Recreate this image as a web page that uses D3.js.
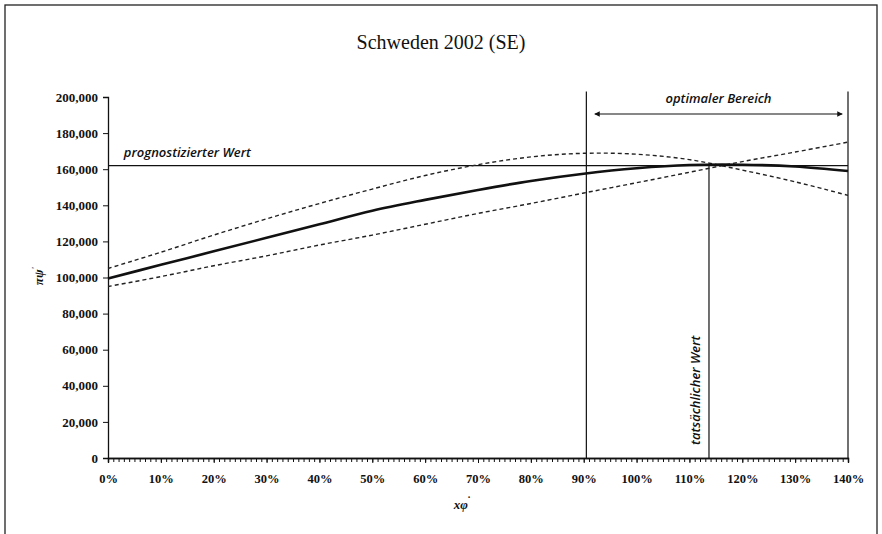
<!DOCTYPE html>
<html>
<head>
<meta charset="utf-8">
<script src="https://cdn.jsdelivr.net/npm/d3@7"></script>
<style>
  body { margin: 0; background: #fff; }
  svg { display: block; }
</style>
</head>
<body>
<script>
const shares = [0, 0.1, 0.2, 0.3, 0.4, 0.5, 0.6, 0.7, 0.8, 0.9, 1.0, 1.1, 1.2, 1.3, 1.4];
const mainCurve = [99500, 107000, 114500, 122000, 129500, 137000, 143000, 148500, 153500, 157500, 160500, 162300, 162500, 161500, 159000];
const upperCurve = [105000, 114000, 123500, 132500, 141000, 149000, 156500, 162500, 166800, 168800, 168300, 165300, 159500, 153000, 145500];
const lowerCurve = [95000, 100500, 106500, 112000, 118000, 123500, 129500, 135500, 141000, 146800, 152500, 158300, 164200, 169500, 175000];
const yTicks = [0, 20000, 40000, 60000, 80000, 100000, 120000, 140000, 160000, 180000, 200000];
const xTicks = d3.range(0, 15).map((i) => i / 10);

const forecastValue = 162000;
const actualShare = 1.137;
const actualValue = 162500;
const rangeStart = 0.905;
const rangeEnd = 1.4;

const width = 882, height = 534;
const margin = { top: 97, right: 34, bottom: 76, left: 108 };
const w = width - margin.left - margin.right,
  h = height - margin.top - margin.bottom;

const svg = d3.select("body").append("svg")
  .attr("width", width)
  .attr("height", height);

// outer frame
svg.append("rect")
  .attr("x", 5).attr("y", 5)
  .attr("width", 872).attr("height", 560)
  .attr("fill", "none").attr("stroke", "#222").attr("stroke-width", 1.3);

svg.append("text")
  .attr("x", 441).attr("y", 49)
  .attr("text-anchor", "middle")
  .attr("font-family", "Liberation Serif, serif")
  .attr("font-size", 20)
  .attr("fill", "#111")
  .text("Schweden 2002 (SE)");

const g = svg.append("g")
  .attr("transform", `translate(${margin.left},${margin.top})`);

const x = d3.scaleLinear().domain([0, 1.4]).range([0, w]);
const y = d3.scaleLinear().domain([0, 200000]).range([h, 0]);

// axes
const yAxis = d3.axisLeft(y).tickValues(yTicks).tickSize(5).tickPadding(5)
  .tickFormat(d3.format(","));
g.append("g").attr("class", "y-axis").call(yAxis);

const xMinor = d3.axisBottom(x).tickValues(d3.range(0, 141).map((i) => i / 100))
  .tickSize(4).tickFormat("");
g.append("g").attr("transform", `translate(0,${h})`).call(xMinor);

const xAxis = d3.axisBottom(x).tickValues(xTicks).tickSize(5).tickPadding(11)
  .tickFormat(d3.format(".0%"));
g.append("g").attr("class", "x-axis").attr("transform", `translate(0,${h})`).call(xAxis);

g.selectAll(".domain").attr("stroke", "#111").attr("stroke-width", 1.3);
g.selectAll(".tick line").attr("stroke", "#111");
g.selectAll(".tick text")
  .attr("font-family", "Liberation Serif, serif")
  .attr("font-weight", "bold")
  .attr("fill", "#111");
g.select(".y-axis").selectAll(".tick text").attr("font-size", 13);
g.select(".x-axis").selectAll(".tick text").attr("font-size", 12.5);

// reference lines
g.append("line")
  .attr("x1", x(0)).attr("x2", x(1.4))
  .attr("y1", y(forecastValue)).attr("y2", y(forecastValue))
  .attr("stroke", "#111").attr("stroke-width", 1.2);

[rangeStart, rangeEnd].forEach((s) => {
  g.append("line")
    .attr("x1", x(s)).attr("x2", x(s))
    .attr("y1", y(0)).attr("y2", y(203000))
    .attr("stroke", "#111").attr("stroke-width", 1.2);
});

g.append("line")
  .attr("x1", x(actualShare)).attr("x2", x(actualShare))
  .attr("y1", y(0)).attr("y2", y(actualValue))
  .attr("stroke", "#111").attr("stroke-width", 1.2);

// curves
const line = d3.line()
  .x((d, i) => x(shares[i]))
  .y((d) => y(d))
  .curve(d3.curveCatmullRom);

g.append("path").datum(upperCurve)
  .attr("fill", "none").attr("stroke", "#222")
  .attr("stroke-width", 1.4).attr("stroke-dasharray", "4,3")
  .attr("d", line);
g.append("path").datum(lowerCurve)
  .attr("fill", "none").attr("stroke", "#222")
  .attr("stroke-width", 1.4).attr("stroke-dasharray", "4,3")
  .attr("d", line);
g.append("path").datum(mainCurve)
  .attr("fill", "none").attr("stroke", "#111")
  .attr("stroke-width", 2.6)
  .attr("d", line);

// arrow for the optimal range
const defs = svg.append("defs");
defs.append("marker")
  .attr("id", "head")
  .attr("viewBox", "0 0 10 10")
  .attr("refX", 9).attr("refY", 5)
  .attr("markerWidth", 7).attr("markerHeight", 5)
  .attr("orient", "auto-start-reverse")
  .append("path").attr("d", "M0,0L10,5L0,10z").attr("fill", "#111");

g.append("line")
  .attr("x1", x(0.921)).attr("x2", x(1.389))
  .attr("y1", y(190600)).attr("y2", y(190600))
  .attr("stroke", "#111").attr("stroke-width", 1.1)
  .attr("marker-start", "url(#head)")
  .attr("marker-end", "url(#head)");

const italic = (sel) => sel
  .attr("font-family", "Open Sans, sans-serif")
  .attr("font-style", "italic")
  .attr("font-weight", 600)
  .attr("font-size", 13)
  .attr("fill", "#111");

g.append("text")
  .attr("x", x(1.155)).attr("y", y(196500))
  .attr("text-anchor", "middle")
  .text("optimaler Bereich")
  .call(italic);

g.append("text")
  .attr("x", x(0.03)).attr("y", y(166500))
  .text("prognostizierter Wert")
  .call(italic);

g.append("text")
  .attr("transform", `translate(${x(actualShare) - 9},${y(37500)}) rotate(-90)`)
  .attr("text-anchor", "middle")
  .text("tatsächlicher Wert")
  .call(italic);

// axis titles
svg.append("text")
  .attr("transform", "translate(43,276) rotate(-90)")
  .attr("text-anchor", "middle")
  .attr("font-family", "Liberation Serif, serif")
  .attr("font-style", "italic")
  .attr("font-weight", "bold")
  .attr("font-size", 13)
  .attr("fill", "#111")
  .text("πψ")
  .append("tspan").attr("dy", -5).attr("font-size", 9).text("'");

svg.append("text")
  .attr("x", 462).attr("y", 509)
  .attr("text-anchor", "middle")
  .attr("font-family", "Liberation Serif, serif")
  .attr("font-style", "italic")
  .attr("font-weight", "bold")
  .attr("font-size", 13)
  .attr("fill", "#111")
  .text("xφ")
  .append("tspan").attr("dy", -8).attr("font-size", 10).text("·");
</script>
</body>
</html>
